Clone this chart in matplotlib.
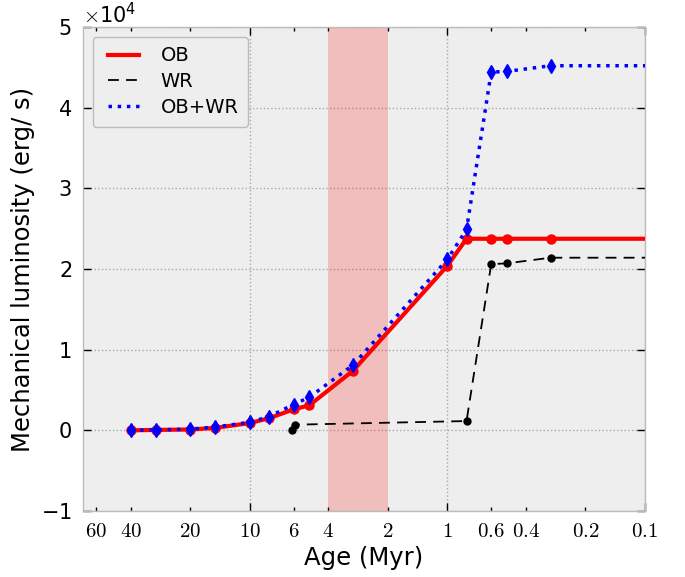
import numpy as np
import matplotlib
matplotlib.use("Agg")
import matplotlib.pyplot as plt
from matplotlib.ticker import FixedLocator, FuncFormatter

# --- DATA (luminosity in erg/s) ---
ob_age = [40, 30, 20, 15, 10, 8, 6, 5, 3, 1, 0.8, 0.6, 0.5, 0.3, 0.01]
ob_lum = [0, 50, 100, 300, 900, 1500, 2600, 3100, 7400, 20400,
          23750, 23750, 23750, 23750, 23750]

wr_age = [6.1, 5.9, 0.8, 0.6, 0.5, 0.3, 0.01]
wr_lum = [0, 700, 1150, 20600, 20700, 21400, 21400]

tot_age = [40, 30, 20, 15, 10, 8, 6, 5, 3, 1, 0.8, 0.6, 0.5, 0.3, 0.01]
tot_lum = [0, 50, 150, 400, 1000, 1700, 3200, 4100, 8100, 21200,
           24900, 44400, 44500, 45200, 45200]

major_ticks = [10, 1, 0.1]
minor_ticks = [60, 40, 20, 6, 4, 2, 0.6, 0.4, 0.2]
shade = (4, 2)

# --- STYLE ---
plt.rcParams["mathtext.fontset"] = "cm"
plt.rcParams["font.family"] = "DejaVu Sans"

fig = plt.figure(figsize=(6.85, 5.77), dpi=100)
ax = fig.add_axes([0.121, 0.1144, 0.8205, 0.8388])
ax.set_facecolor("#eeeeee")
for sp in ax.spines.values():
    sp.set_color("#bcbcbc")
    sp.set_linewidth(1.0)

ax.axvspan(shade[0], shade[1], color="red", alpha=0.2, lw=0, zorder=1)

ax.plot(ob_age, ob_lum, "-o", color="red", lw=3, ms=6.5, mec="red",
        label="OB", zorder=3)
ax.plot(wr_age, wr_lum, "--o", color="black", lw=1.3, ms=5,
        dashes=(6, 4), label="WR", zorder=4)
ax.plot(tot_age, tot_lum, ":d", color="blue", lw=2.5, ms=7, mec="blue",
        label="OB+WR", zorder=5)

ax.set_xscale("log")
ax.set_xlim(70, 0.1)
ax.set_ylim(-10000, 50000)

fmt = FuncFormatter(lambda v, pos: r"$%g$" % v)
ax.xaxis.set_major_locator(FixedLocator(major_ticks))
ax.xaxis.set_minor_locator(FixedLocator(minor_ticks))
ax.xaxis.set_major_formatter(fmt)
ax.xaxis.set_minor_formatter(fmt)
ax.set_yticks(np.arange(-10000, 50001, 10000))
ax.ticklabel_format(axis="y", style="sci", scilimits=(0, 0), useMathText=True)
ax.yaxis.get_offset_text().set_fontsize(15)

ax.tick_params(which="both", direction="in", top=True, right=True,
               labelsize=15, color="black")
ax.tick_params(which="major", length=6, width=1)
ax.tick_params(which="minor", length=3, width=1)
ax.tick_params(axis="x", which="both", pad=7)
ax.tick_params(axis="y", pad=8)

ax.grid(True, which="major", color="#a8a8a8", linestyle=":", lw=1, zorder=0)
ax.set_axisbelow(True)

ax.set_xlabel("Age (Myr)", fontsize=17.5)
ax.set_ylabel("Mechanical luminosity (erg/ s)", fontsize=17.5)

leg = ax.legend(loc="upper left", fontsize=14, fancybox=True,
                facecolor="#eeeeee", edgecolor="#bcbcbc", framealpha=1,
                borderpad=0.5, labelspacing=0.35, handlelength=2.2,
                handletextpad=0.8, borderaxespad=0.5, numpoints=2)
leg.get_frame().set_linewidth(1.0)
# legend shows the line styles only
for h in leg.legend_handles:
    h.set_marker("")

fig.savefig("out.png", dpi=100)
